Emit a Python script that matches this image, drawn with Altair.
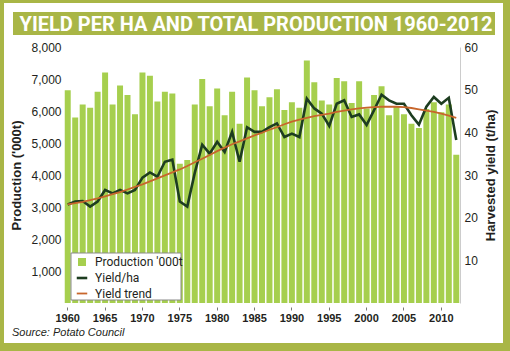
import altair as alt
import pandas as pd

years = list(range(1960, 2013))
production = [6650, 5800, 6200, 6100, 6600, 7200, 6200, 6800, 6500, 5900,
              7200, 7100, 6300, 6600, 6550, 4350, 4470, 6200, 7000, 6150,
              6700, 5870, 6600, 5600, 7050, 6650, 6150, 6430, 6680, 6030,
              6270, 6100, 7580, 6900, 6330, 6200, 7030, 6930, 6250, 6930,
              6080, 6500, 6770, 5870, 6150, 5900, 5600, 5470, 6060, 6270,
              5960, 6200, 4630]
yield_ha = [23.1, 23.8, 23.9, 22.6, 23.8, 26.5, 25.7, 26.5, 25.7, 26.5,
            29.4, 30.6, 29.6, 33.1, 33.6, 23.8, 22.6, 30.5, 37.1, 35.0,
            37.8, 35.4, 40.1, 33.1, 41.2, 40.1, 40.1, 41.2, 42.1, 38.9,
            39.7, 38.9, 47.9, 45.6, 44.4, 41.5, 46.7, 47.5, 43.6, 44.2,
            41.7, 45.2, 48.8, 47.5, 46.7, 46.7, 44.0, 41.8, 46.0, 48.3,
            46.7, 48.1, 38.2]
yield_trend = [23.1, 23.4, 23.7, 24.1, 24.5, 25.0, 25.5, 26.0, 26.6, 27.2,
               27.8, 28.5, 29.2, 29.9, 30.6, 31.3, 32.1, 33.0, 33.8, 34.7,
               35.6, 36.4, 37.2, 37.9, 38.6, 39.3, 39.9, 40.6, 41.2, 41.9,
               42.5, 43.0, 43.4, 43.8, 44.1, 44.4, 44.8, 45.1, 45.4, 45.6,
               45.8, 45.9, 46.0, 46.0, 46.0, 45.9, 45.7, 45.4, 45.1, 44.8,
               44.4, 43.9, 43.4]
x_tick_labels = [1960, 1965, 1970, 1975, 1980, 1985, 1990, 1995, 2000, 2005, 2010]
left_ticks = [1000, 2000, 3000, 4000, 5000, 6000, 7000, 8000]
right_ticks = [10, 20, 30, 40, 50, 60]
series_bar = ["Production '000t"]
series_lines = ["Yield/ha", "Yield trend"]

OLIVE = "#a9b646"
BAR = "#a6cf4e"
DARK = "#1d3d20"
TREND = "#c8662c"
TXT = "#231f20"
FONT = "Liberation Sans"
NARROW = "Liberation Sans Narrow, Roboto, Liberation Sans"

bars_df = pd.DataFrame({"year": years, "value": production, "series": series_bar[0]})
lines_df = pd.concat([
    pd.DataFrame({"year": years, "value": yield_ha, "series": series_lines[0]}),
    pd.DataFrame({"year": years, "value": yield_trend, "series": series_lines[1]}),
])
one = pd.DataFrame({"a": [0]})

W, H = 396, 256
OX, OY = 64, 47  # plot origin inside the 510x351 canvas

x_enc = alt.X("year:O", title=None,
              scale=alt.Scale(paddingInner=0.2, paddingOuter=0.1),
              axis=alt.Axis(values=x_tick_labels, labelAngle=0, domain=False,
                            tickSize=3, tickColor="#777", offset=4,
                            labelPadding=2, labelFont=FONT, labelFontWeight="bold",
                            labelFontSize=11, labelColor=TXT, grid=False, zindex=1))

def rect(x1, x2, y1, y2, fill, stroke=None, sw=0):
    kw = dict(fill=fill)
    if stroke:
        kw.update(stroke=stroke, strokeWidth=sw)
    return alt.Chart(one).mark_rect(**kw).encode(
        x=alt.value(x1 - OX), x2=alt.value(x2 - OX),
        y=alt.value(y1 - OY), y2=alt.value(y2 - OY))

frame = rect(0, 510, 0, 351, OLIVE)
panel = rect(4, 503, 3, 343, "white")
banner = rect(13, 495, 12, 35, OLIVE)

title = alt.Chart(one).mark_text(
    text="YIELD PER HA AND TOTAL PRODUCTION 1960-2012", font=NARROW,
    fontWeight="bold", fontSize=20, color="white", align="center",
    baseline="middle").encode(x=alt.value(256 - OX), y=alt.value(24.5 - OY))

source = alt.Chart(one).mark_text(
    text="Source: Potato Council", font=FONT, fontStyle="italic", fontSize=11,
    color=TXT, align="left", baseline="middle").encode(
    x=alt.value(12 - OX), y=alt.value(333 - OY))

bars = alt.Chart(bars_df).mark_bar().encode(
    x=x_enc,
    y=alt.Y("value:Q", title="Production ('000t)",
            scale=alt.Scale(domain=[0, 8000], nice=False),
            axis=alt.Axis(values=left_ticks, format=",.0f", domain=False, ticks=False,
                          labelPadding=3, labelFont=FONT, labelFontSize=12,
                          labelColor=TXT, grid=False, titleFont=FONT,
                          titleFontSize=13, titleFontWeight="bold",
                          titleColor=TXT, titlePadding=7, zindex=1)),
    color=alt.Color("series:N",
                    scale=alt.Scale(domain=series_bar, range=[BAR]),
                    legend=alt.Legend(orient="none", legendX=12, legendY=209,
                                      title=None, symbolType="square",
                                      symbolSize=64, symbolStrokeWidth=0,
                                      labelFont=NARROW, labelFontSize=12,
                                      labelColor=TXT, labelOffset=7, padding=0)),
)

lines = alt.Chart(lines_df).mark_line(strokeJoin="miter").encode(
    x=x_enc,
    y=alt.Y("value:Q", title="Harvested yield (t/ha)",
            scale=alt.Scale(domain=[0, 60], nice=False),
            axis=alt.Axis(orient="right", values=right_ticks, domain=True,
                          domainColor="#cccccc", ticks=False, labelPadding=4,
                          labelFont=FONT, labelFontSize=12, labelColor=TXT,
                          grid=False, titleFont=FONT, titleFontSize=13,
                          titleFontWeight="bold", titleColor=TXT,
                          titleAngle=270, titleBaseline="top",
                          titlePadding=7, zindex=1)),
    stroke=alt.Stroke("series:N",
                      scale=alt.Scale(domain=series_lines, range=[DARK, TREND]),
                      legend=alt.Legend(orient="none", legendX=11, legendY=224,
                                        title=None, symbolType="stroke",
                                        symbolSize=110, symbolStrokeWidth=2,
                                        labelFont=NARROW, labelFontSize=12,
                                        labelColor=TXT, labelOffset=6,
                                        rowPadding=3, padding=0)),
    strokeWidth=alt.StrokeWidth("series:N",
                                scale=alt.Scale(domain=series_lines, range=[2.6, 1.8]),
                                legend=None),
)

legend_box = rect(71, 181, 253, 300, "white", "#8a8a8a", 1)

base = alt.layer(bars, lines).resolve_scale(y="independent")

chart = alt.layer(frame, panel, banner, title, source, base, legend_box).properties(
    width=W, height=H, padding=0,
    autosize=alt.AutoSizeParams(type="pad"),
).configure_view(stroke=None).configure(background="white")

chart.save("out.html", embed_options={"renderer": "svg", "actions": False})
